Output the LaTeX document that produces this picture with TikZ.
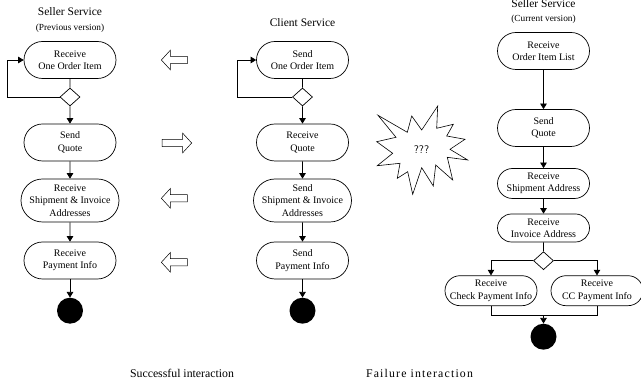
\documentclass[tikz,border=0pt]{standalone}
\usepackage{fontspec}
\setmainfont{Liberation Serif}
\usetikzlibrary{arrows.meta, shapes.geometric, shapes.misc, shapes.arrows}

\tikzset{
    activity/.style={draw, rounded rectangle, line width=0.7pt, align=center, font=\fontsize{10}{12.4}\selectfont, inner sep=0pt, minimum width=92pt, minimum height=37pt},
    choice/.style={draw, diamond, line width=0.7pt, inner sep=0pt, minimum width=20pt, minimum height=18pt},
    finish/.style={circle, fill=black, inner sep=0pt, minimum size=26pt},
    flow/.style={line width=0.7pt, -{Triangle[width=6.5pt,length=5.5pt]}},
    plain/.style={line width=0.7pt},
    swap/.style={draw, single arrow, line width=0.5pt, inner sep=3.3pt, single arrow head extend=6.2pt, single arrow tip angle=95},
    title/.style={font=\fontsize{11.5}{13}\selectfont},
    subtitle/.style={font=\fontsize{9.3}{11}\selectfont},
    caption/.style={font=\fontsize{11.8}{14}\selectfont}
}

\begin{document}
\begin{tikzpicture}[x=1pt, y=1pt]
        \useasboundingbox (0,0) rectangle (641,-387);

        % previous seller
        \node[title] (sellerOld) at (70,-12) {Seller Service};
        \node[subtitle] (sellerOldVer) at (70,-28) {(Previous version)};
        \node[activity] (a1) at (70,-60) {Receive\\One Order Item};
        \node[choice] (a2) at (70,-97) {};
        \node[activity] (a3) at (70,-142.5) {Send\\Quote};
        \node[activity, minimum width=98pt, minimum height=43pt] (a4) at (70,-200.5) {Receive\\Shipment \& Invoice\\Addresses};
        \node[activity] (a5) at (70,-260.5) {Receive\\Payment Info};
        \node[finish] (a6) at (70,-310.7) {};
        \draw[plain] (a1) -- (a2);
        \draw[flow] (a2) -- (a3);
        \draw[flow] (a3) -- (a4);
        \draw[flow] (a4) -- (a5);
        \draw[flow] (a5) -- (a6);
        \draw[flow] (a2.west) -- (7.5,-97) |- (a1.west);

        % client
        \node[title] (client) at (302.5,-23) {Client Service};
        \node[activity] (b1) at (302.5,-60) {Send\\One Order Item};
        \node[choice] (b2) at (302.5,-97) {};
        \node[activity] (b3) at (302.5,-142.5) {Receive\\Quote};
        \node[activity, minimum width=98pt, minimum height=43pt] (b4) at (302.5,-200.5) {Send\\Shipment \& Invoice\\Addresses};
        \node[activity] (b5) at (302.5,-260.5) {Send\\Payment Info};
        \node[finish] (b6) at (302.5,-310.7) {};
        \draw[plain] (b1) -- (b2);
        \draw[flow] (b2) -- (b3);
        \draw[flow] (b3) -- (b4);
        \draw[flow] (b4) -- (b5);
        \draw[flow] (b5) -- (b6);
        \draw[flow] (b2.west) -- (237,-97) |- (b1.west);

        % current seller
        \node[title] (sellerNew) at (543.5,-4) {Seller Service};
        \node[subtitle] (sellerNewVer) at (543.5,-19) {(Current version)};
        \node[activity] (c1) at (543.5,-51) {Receive\\Order Item List};
        \node[activity] (c2) at (543.5,-128) {Send\\Quote};
        \node[activity, minimum height=30pt] (c3) at (543.5,-183.5) {Receive\\Shipment Address};
        \node[activity, minimum height=28pt] (c4) at (543.5,-228) {Receive\\Invoice Address};
        \node[choice] (c5) at (543.5,-260.7) {};
        \node[activity, minimum height=30pt] (c6) at (491,-290.7) {Receive\\Check Payment Info};
        \node[activity, minimum height=30pt] (c7) at (597,-290.7) {Receive\\CC Payment Info};
        \node[finish] (c8) at (543.5,-336.7) {};
        \coordinate (merge) at (543.5,-315.3);
        \draw[flow] (c1) -- (c2);
        \draw[flow] (c2) -- (c3);
        \draw[flow] (c3) -- (c4);
        \draw[plain] (c4) -- (c5);
        \draw[flow] (c5.west) -| (c6.north);
        \draw[flow] (c5.east) -| (c7.north);
        \draw[plain] (c6.south) |- (merge);
        \draw[plain] (c7.south) |- (merge);
        \draw[flow] (merge) -- (c8);

        % direction of the messages
        \foreach \x/\y/\rot/\len/\n in {176/60/180/26/1, 175.3/143/0/29.5/2, 176/198.3/180/26/3, 176/262.3/180/26/4} {
                \node[swap, shape border rotate=\rot, minimum height=\len pt] (m\n) at (\x,-\y) {};
            }

        % failure
        \draw[line width=0.6pt] (378,-115.3) -- (407.3,-132.3) -- (411.7,-116) -- (421.7,-130)
        -- (437.7,-106) -- (436.7,-128.3) -- (453.3,-124.3) -- (446.7,-136) -- (465,-139.3)
        -- (450,-149.3) -- (467.7,-160) -- (447.3,-157.3) -- (452.7,-180) -- (435.7,-165)
        -- (433.3,-186) -- (421.7,-167.7) -- (412.7,-194.3) -- (407.7,-171.7) -- (397.3,-178.3)
        -- (400,-163.3) -- (377.3,-165.7) -- (392.7,-153.3) -- (376.7,-141.7) -- (396,-137.3) -- cycle;
        \node[font=\fontsize{11}{12}\sffamily] (what) at (421.5,-149.5) {???};

        \node[caption] (ok) at (182,-373) {Successful interaction};
        \node[caption] (fail) at (419.5,-373) {\addfontfeatures{LetterSpace=10}Failure interaction};
    \end{tikzpicture}
\end{document}
